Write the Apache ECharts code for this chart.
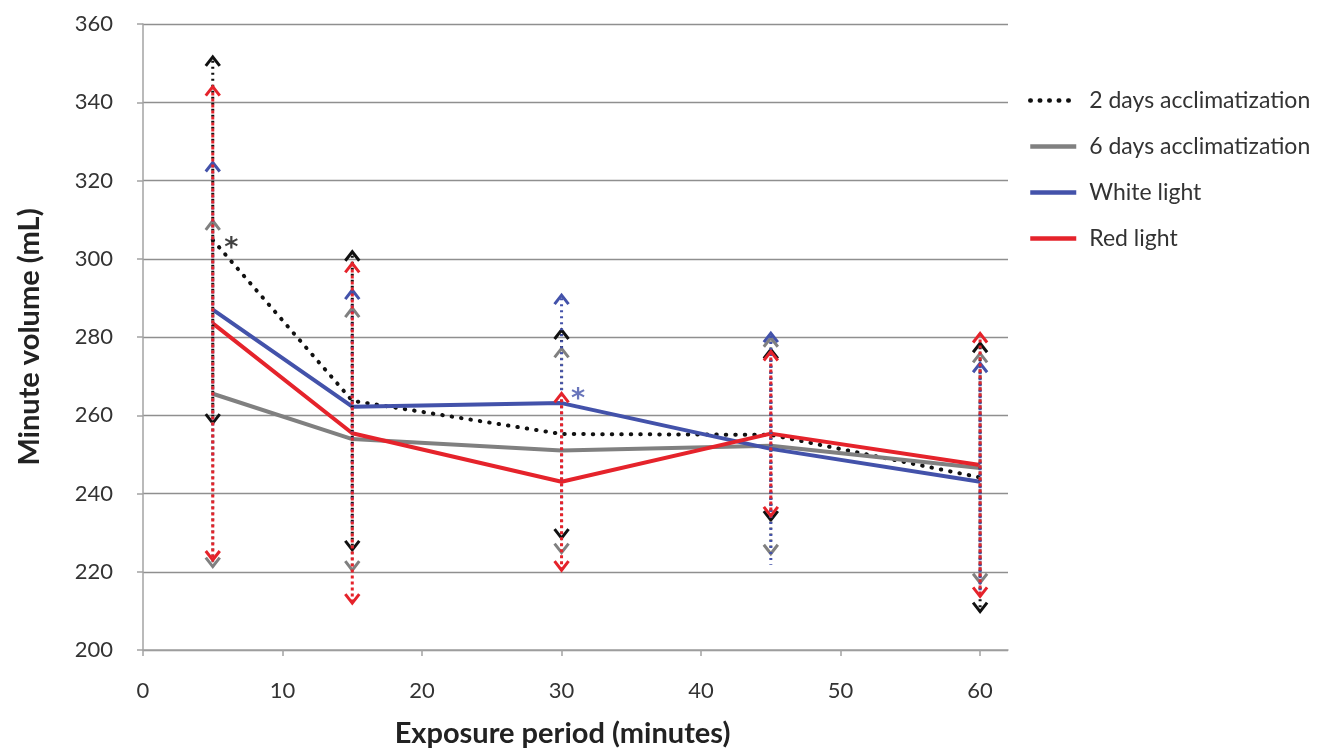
<!DOCTYPE html>
<html>
<head>
<meta charset="utf-8">
<script src="https://cdn.jsdelivr.net/npm/echarts@6/dist/echarts.min.js"></script>
<style>
  html, body { margin: 0; padding: 0; background: #fff; }
  #chart { width: 1321px; height: 750px; }
</style>
</head>
<body>
<div id="chart"></div>
<script>
// Exposure time points (minutes)
const minutes = [5, 15, 30, 45, 60];

// Mean minute volume (mL) per group
const twoDays    = [304.8, 263.7, 255.2, 255.0, 244.1];
const sixDays    = [265.5, 253.9, 251.0, 252.2, 246.5];
const whiteLight = [287.0, 262.2, 263.1, 251.4, 243.0];
const redLight   = [283.5, 255.4, 243.0, 255.3, 247.3];

// Standard deviations (mL) per group
const twoDaysSD    = [46.8, 38.1, 26.6, 21.8, 34.3];
const sixDaysSD    = [44.2, 33.5, 26.1, 27.6, 29.3];
const whiteLightSD = [37.6, 29.8, 27.6, 29.6, 30.3];
const redLightSD   = [60.5, 43.4, 22.6, 21.0, 33.6];

// Significance marks (*) per time point
const twoDaysStar    = [true, false, false, false, false];
const whiteLightStar = [false, false, true, false, false];

// Axis ticks
const xTicks = [0, 10, 20, 30, 40, 50, 60];
const yTicks = [200, 220, 240, 260, 280, 300, 320, 340, 360];

const names = ['2 days acclimatization', '6 days acclimatization', 'White light', 'Red light'];
const COLORS = { black: '#111111', gray: '#808080', blue: '#4352aa', red: '#e5232b' };
const FONT = 'Lato, "Open Sans", sans-serif';

function lineData(values) {
  return minutes.map((m, i) => [m, values[i]]);
}

// Invisible points carrying the "*" marks
function starSeries(values, stars, color, offset) {
  return {
    type: 'scatter',
    z: 6,
    silent: true,
    symbol: 'circle',
    symbolSize: 1,
    itemStyle: { color: 'rgba(0,0,0,0)' },
    label: {
      show: true, formatter: '*', position: 'right', distance: 8, offset: offset,
      fontSize: 27, fontWeight: 'bold', color: color, fontFamily: '"DejaVu Sans", sans-serif'
    },
    data: minutes.map((m, i) => [m, values[i]]).filter((d, i) => stars[i])
  };
}

// Vertical SD bar with open chevron heads
function errorBars(color, values, sd, dash, dashOffset, lowerHead) {
  return {
    type: 'custom',
    z: 5,
    silent: true,
    encode: { x: 0, y: [1, 2] },
    data: minutes.map((m, i) => [m, values[i] - sd[i], values[i] + sd[i]]),
    renderItem: function (params, api) {
      const top = api.coord([api.value(0), api.value(2)]);
      const bot = api.coord([api.value(0), api.value(1)]);
      const w = 7, h = 9;
      const head = { stroke: color, lineWidth: 3, fill: 'none', lineJoin: 'miter' };
      const children = [
        {
          type: 'line',
          shape: { x1: top[0], y1: top[1], x2: bot[0], y2: bot[1] },
          style: { stroke: color, lineWidth: 3, lineDash: dash, lineDashOffset: dashOffset }
        },
        {
          type: 'polyline',
          shape: { points: [[top[0] - w, top[1] + h], [top[0], top[1]], [top[0] + w, top[1] + h]] },
          style: head
        }
      ];
      if (lowerHead) {
        children.push({
          type: 'polyline',
          shape: { points: [[bot[0] - w, bot[1] - h], [bot[0], bot[1]], [bot[0] + w, bot[1] - h]] },
          style: head
        });
      }
      return { type: 'group', children: children };
    }
  };
}

const chart = echarts.init(document.getElementById('chart'), null, { renderer: 'canvas' });

const option = {
  animation: false,
  grid: { left: 143, right: 313, top: 24, bottom: 100, containLabel: false, outerBoundsMode: 'none' },
  legend: {
    data: names,
    orient: 'vertical',
    left: 1023,
    top: 84,
    itemWidth: 46,
    itemHeight: 14,
    itemGap: 23,
    selectedMode: false,
    itemStyle: { opacity: 0 },
    lineStyle: { width: 4.5 },
    textStyle: { fontFamily: FONT, fontSize: 23, color: '#333', padding: [0, 0, 0, 8] }
  },
  xAxis: {
    type: 'value',
    min: 0,
    max: 62,
    name: 'Exposure period (minutes)',
    nameLocation: 'middle',
    nameGap: 69,
    nameTextStyle: {
      fontFamily: FONT, fontSize: 29, fontWeight: 'bold', color: '#222',
      verticalAlign: 'top', padding: [0, 26, 0, 0]
    },
    axisLine: { show: true, lineStyle: { color: '#a3a3a3', width: 1.5 } },
    axisTick: { show: true, length: 6, customValues: xTicks, lineStyle: { color: '#a3a3a3', width: 1.5 } },
    axisLabel: { customValues: xTicks, margin: 30, fontFamily: FONT, fontSize: 22, color: '#333' },
    splitLine: { show: false }
  },
  yAxis: {
    type: 'value',
    min: 200,
    max: 360,
    interval: 20,
    name: 'Minute volume (mL)',
    nameLocation: 'middle',
    nameGap: 99,
    nameTextStyle: { fontFamily: FONT, fontSize: 29, fontWeight: 'bold', color: '#222' },
    axisLine: { show: true, lineStyle: { color: '#a3a3a3', width: 1.5 } },
    axisTick: { show: true, length: 6, lineStyle: { color: '#a3a3a3', width: 1.5 } },
    axisLabel: { customValues: yTicks, margin: 30, fontFamily: FONT, fontSize: 22, color: '#333' },
    splitLine: { show: true, lineStyle: { color: '#8f8f8f', width: 1.3 } }
  },
  series: [
    {
      name: names[0],
      type: 'line',
      z: 3,
      symbol: 'none',
      itemStyle: { color: COLORS.black },
      lineStyle: { color: COLORS.black, width: 4, type: [0.5, 9], cap: 'round' },
      emphasis: { disabled: true },
      data: lineData(twoDays)
    },
    {
      name: names[1],
      type: 'line',
      z: 3,
      symbol: 'none',
      itemStyle: { color: COLORS.gray },
      lineStyle: { color: COLORS.gray, width: 4 },
      emphasis: { disabled: true },
      data: lineData(sixDays)
    },
    {
      name: names[2],
      type: 'line',
      z: 3,
      symbol: 'none',
      itemStyle: { color: COLORS.blue },
      lineStyle: { color: COLORS.blue, width: 4 },
      emphasis: { disabled: true },
      data: lineData(whiteLight)
    },
    {
      name: names[3],
      type: 'line',
      z: 3,
      symbol: 'none',
      itemStyle: { color: COLORS.red },
      lineStyle: { color: COLORS.red, width: 4 },
      emphasis: { disabled: true },
      data: lineData(redLight)
    },
    errorBars(COLORS.black, twoDays, twoDaysSD, [2, 4], -4, true),
    errorBars(COLORS.gray, sixDays, sixDaysSD, [2, 4], -3.5, true),
    errorBars(COLORS.blue, whiteLight, whiteLightSD, [2, 4], -3, false),
    errorBars(COLORS.red, redLight, redLightSD, [3, 3], 0, true),
    starSeries(twoDays, twoDaysStar, COLORS.black, [3, 9]),
    starSeries(whiteLight, whiteLightStar, COLORS.blue, [1, -3])
  ]
};

chart.setOption(option);
</script>
</body>
</html>
